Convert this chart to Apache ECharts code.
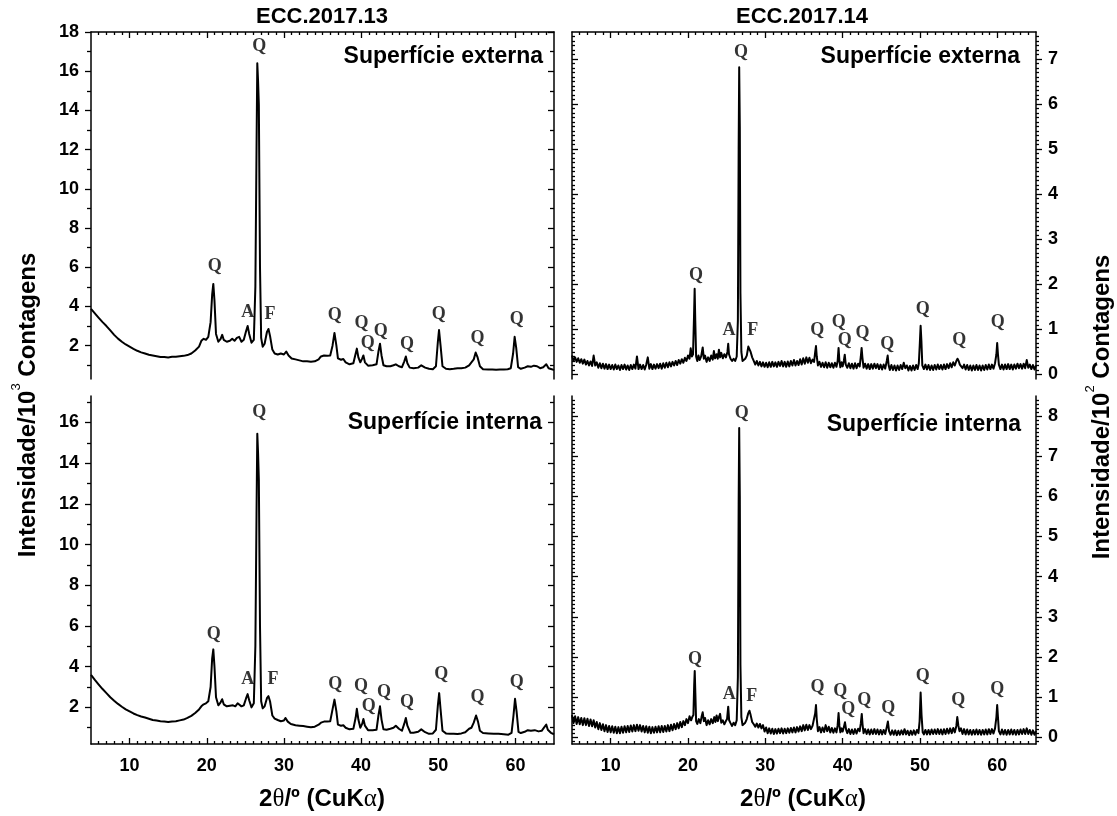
<!DOCTYPE html>
<html><head><meta charset="utf-8">
<script src="https://cdn.jsdelivr.net/npm/echarts@6/dist/echarts.min.js"></script>
<style>html,body{margin:0;padding:0;background:#fff}#c{width:1117px;height:816px}</style>
</head><body><div id="c"></div>
<script>
// ---- tick values ----
const xTickValues=[10,20,30,40,50,60];
const yTicksTL=[2,4,6,8,10,12,14,16,18];
const yTicksBL=[2,4,6,8,10,12,14,16];
const yTicksTR=[0,1,2,3,4,5,6,7];
const yTicksBR=[0,1,2,3,4,5,6,7,8];
const yMinorLeft=[1,3,5,7,9,11,13,15,17];

// ---- ECC.2017.13, Superfície externa (10^3 counts) ----
const ecc13ext=[[5,3.88],[5.5,3.65],[6,3.42],[6.5,3.2],[7,3.0],[7.5,2.78],[8,2.55],[8.5,2.36],[9,2.2],[9.5,2.06],[10,1.95],[10.5,1.84],[11,1.74],[11.5,1.66],[12,1.6],[12.5,1.54],[13,1.5],[13.5,1.46],[14,1.42],[14.5,1.42],[15,1.4],[15.5,1.43],[16,1.44],[16.5,1.46],[17,1.48],[17.5,1.52],[18,1.6],[18.5,1.75],[19,1.95],[19.3,2.25],[19.6,2.35],[19.9,2.3],[20.2,2.45],[20.5,3.2],[20.7,4.6],[20.85,5.15],[21.0,4.3],[21.2,2.6],[21.5,2.2],[21.8,2.35],[22.0,2.55],[22.2,2.3],[22.6,2.2],[23.0,2.25],[23.3,2.35],[23.6,2.25],[23.9,2.4],[24.2,2.45],[24.5,2.2],[24.8,2.3],[25.1,2.75],[25.3,3.0],[25.5,2.6],[25.8,2.15],[26.1,2.3],[26.3,5],[26.45,12],[26.55,16.4],[26.65,15.5],[26.75,14.3],[26.9,6],[27.05,2.4],[27.25,1.95],[27.5,2.1],[27.8,2.7],[28.0,2.85],[28.2,2.5],[28.5,1.8],[28.8,1.6],[29.2,1.55],[29.6,1.6],[30.0,1.55],[30.3,1.7],[30.6,1.5],[31.0,1.35],[31.5,1.3],[32.0,1.25],[32.5,1.2],[33.0,1.2],[33.5,1.18],[34.0,1.2],[34.5,1.3],[34.8,1.45],[35.2,1.5],[35.6,1.48],[36.0,1.5],[36.3,2.0],[36.55,2.65],[36.8,2.0],[37.0,1.35],[37.4,1.28],[37.7,1.32],[38.0,1.15],[38.5,1.05],[39.0,1.1],[39.3,1.6],[39.45,1.85],[39.65,1.4],[39.9,1.15],[40.15,1.35],[40.3,1.5],[40.5,1.15],[40.9,0.98],[41.5,1.0],[42.0,1.05],[42.25,1.7],[42.45,2.1],[42.65,1.5],[42.9,1.0],[43.3,0.95],[43.8,0.95],[44.2,1.0],[44.5,1.05],[44.9,0.95],[45.3,0.9],[45.6,1.2],[45.8,1.45],[46.0,1.1],[46.3,0.88],[46.8,0.85],[47.4,0.88],[47.8,1.0],[48.0,1.1],[48.3,0.88],[48.8,0.82],[49.3,0.8],[49.7,0.95],[49.95,2.2],[50.1,2.8],[50.3,2.0],[50.55,0.95],[51.0,0.82],[51.5,0.8],[52.0,0.82],[52.5,0.85],[53.0,0.85],[53.5,0.88],[54.0,1.0],[54.3,1.15],[54.6,1.3],[54.85,1.65],[55.1,1.4],[55.4,0.95],[55.8,0.8],[56.5,0.78],[57.0,0.78],[57.5,0.77],[58.0,0.78],[58.5,0.78],[59.0,0.8],[59.4,0.85],[59.7,1.6],[59.9,2.45],[60.1,1.9],[60.35,0.9],[60.7,0.82],[61.2,0.88],[61.6,0.95],[62.0,0.92],[62.4,0.98],[62.8,0.95],[63.2,0.85],[63.6,0.9],[64.0,1.05],[64.3,0.85],[64.7,0.8],[65,0.75]];

// ---- ECC.2017.13, Superfície interna (10^3 counts) ----
const ecc13int=[[5,3.6],[5.5,3.35],[6,3.12],[6.5,2.9],[7,2.7],[7.5,2.5],[8,2.33],[8.5,2.17],[9,2.03],[9.5,1.9],[10,1.8],[10.5,1.7],[11,1.62],[11.5,1.55],[12,1.5],[12.5,1.44],[13,1.38],[13.5,1.35],[14,1.32],[14.5,1.3],[15,1.28],[15.5,1.3],[16,1.32],[16.5,1.36],[17,1.4],[17.5,1.48],[18,1.58],[18.5,1.72],[19,1.9],[19.3,2.05],[19.6,2.15],[19.9,2.2],[20.2,2.3],[20.5,3.0],[20.7,4.4],[20.85,4.85],[21.0,4.0],[21.2,2.5],[21.5,2.1],[21.8,2.25],[22.0,2.4],[22.2,2.15],[22.6,2.05],[23.0,2.08],[23.4,2.1],[23.7,2.05],[24.0,2.2],[24.2,2.25],[24.5,2.05],[24.8,2.1],[25.1,2.45],[25.3,2.65],[25.5,2.35],[25.8,2.0],[26.1,2.2],[26.3,5],[26.45,11.5],[26.55,15.45],[26.65,14.5],[26.75,13.2],[26.9,6],[27.05,2.3],[27.25,1.95],[27.5,2.05],[27.8,2.45],[28.0,2.55],[28.2,2.3],[28.5,1.6],[28.8,1.45],[29.2,1.38],[29.6,1.32],[30.0,1.35],[30.2,1.48],[30.5,1.3],[30.9,1.18],[31.5,1.12],[32.0,1.1],[32.5,1.08],[33.0,1.05],[33.5,1.02],[34.0,1.05],[34.5,1.15],[34.8,1.25],[35.2,1.3],[35.6,1.3],[36.0,1.32],[36.3,1.9],[36.55,2.38],[36.8,1.8],[37.0,1.15],[37.4,1.1],[37.7,1.12],[38.0,1.0],[38.5,0.92],[39.0,0.95],[39.3,1.5],[39.45,1.93],[39.65,1.4],[39.9,1.0],[40.15,1.2],[40.3,1.43],[40.5,1.1],[40.9,0.88],[41.5,0.88],[42.0,0.9],[42.25,1.6],[42.45,2.05],[42.65,1.4],[42.9,0.92],[43.3,0.9],[43.8,0.95],[44.2,1.0],[44.5,1.1],[44.9,0.95],[45.3,0.85],[45.6,1.2],[45.8,1.48],[46.0,1.1],[46.4,0.75],[46.8,0.75],[47.4,0.8],[47.8,0.92],[48.0,0.95],[48.3,0.78],[48.8,0.7],[49.3,0.72],[49.7,0.9],[49.95,2.1],[50.12,2.7],[50.3,1.9],[50.55,0.85],[51.0,0.72],[51.5,0.7],[52.0,0.7],[52.5,0.69],[53.0,0.72],[53.5,0.78],[54.0,0.95],[54.3,1.0],[54.6,1.25],[54.9,1.6],[55.15,1.3],[55.4,0.85],[55.8,0.74],[56.5,0.72],[57.2,0.7],[57.8,0.7],[58.5,0.68],[59.1,0.66],[59.5,0.75],[59.75,1.6],[59.95,2.42],[60.15,1.8],[60.4,0.8],[60.7,0.74],[61.2,0.8],[61.6,0.88],[62.0,0.85],[62.5,0.88],[63.0,0.82],[63.4,0.85],[63.8,1.05],[64.0,1.15],[64.2,0.9],[64.6,0.75],[65,0.68]];

// ---- ECC.2017.14, Superfície externa (10^2 counts) ----
const ecc14ext=[[5,0.42],[5.2,0.3],[5.4,0.38],[5.6,0.28],[5.8,0.36],[6,0.26],[6.2,0.34],[6.4,0.24],[6.6,0.33],[6.8,0.22],[7,0.3],[7.2,0.2],[7.4,0.29],[7.6,0.19],[7.8,0.42],[8,0.2],[8.2,0.27],[8.4,0.15],[8.6,0.25],[8.8,0.14],[9,0.24],[9.2,0.13],[9.4,0.23],[9.6,0.12],[9.8,0.22],[10,0.12],[10.2,0.21],[10.4,0.11],[10.6,0.22],[10.8,0.12],[11,0.2],[11.2,0.1],[11.4,0.21],[11.6,0.12],[11.8,0.22],[12,0.11],[12.2,0.2],[12.4,0.1],[12.6,0.21],[12.8,0.12],[13,0.22],[13.2,0.13],[13.4,0.4],[13.6,0.12],[13.8,0.22],[14,0.12],[14.2,0.21],[14.4,0.11],[14.6,0.22],[14.8,0.38],[15,0.13],[15.2,0.23],[15.4,0.12],[15.6,0.22],[15.8,0.13],[16,0.23],[16.2,0.14],[16.4,0.24],[16.6,0.13],[16.8,0.25],[17,0.15],[17.2,0.26],[17.4,0.16],[17.6,0.27],[17.8,0.18],[18,0.28],[18.2,0.2],[18.4,0.3],[18.6,0.21],[18.8,0.32],[19,0.24],[19.2,0.34],[19.4,0.26],[19.6,0.37],[19.8,0.3],[20,0.42],[20.2,0.35],[20.35,0.58],[20.5,0.4],[20.65,0.45],[20.78,1.3],[20.86,1.9],[20.94,1.2],[21.05,0.4],[21.2,0.3],[21.35,0.42],[21.5,0.32],[21.7,0.4],[21.9,0.6],[22.05,0.35],[22.2,0.42],[22.4,0.28],[22.6,0.38],[22.8,0.3],[23.0,0.42],[23.2,0.33],[23.35,0.52],[23.5,0.36],[23.7,0.45],[23.85,0.35],[24.0,0.55],[24.15,0.38],[24.3,0.48],[24.5,0.36],[24.7,0.45],[24.9,0.38],[25.1,0.5],[25.2,0.68],[25.3,0.45],[25.5,0.35],[25.7,0.3],[25.9,0.35],[26.1,0.3],[26.3,0.4],[26.45,1.2],[26.55,5.0],[26.62,6.82],[26.7,5.5],[26.78,1.8],[26.9,0.5],[27.05,0.3],[27.2,0.26],[27.4,0.35],[27.6,0.42],[27.8,0.62],[27.95,0.66],[28.1,0.5],[28.3,0.38],[28.5,0.3],[28.7,0.22],[28.9,0.3],[29.1,0.2],[29.3,0.28],[29.5,0.18],[29.7,0.27],[29.9,0.17],[30.1,0.26],[30.3,0.16],[30.5,0.27],[30.7,0.17],[30.9,0.28],[31.1,0.18],[31.3,0.27],[31.5,0.17],[31.7,0.28],[31.9,0.19],[32.1,0.3],[32.3,0.18],[32.5,0.28],[32.7,0.17],[32.9,0.29],[33.1,0.18],[33.3,0.3],[33.5,0.2],[33.7,0.32],[33.9,0.2],[34.1,0.3],[34.3,0.21],[34.5,0.34],[34.7,0.22],[34.9,0.36],[35.1,0.24],[35.3,0.38],[35.5,0.26],[35.7,0.37],[35.9,0.25],[36.1,0.33],[36.3,0.28],[36.45,0.5],[36.55,0.63],[36.65,0.4],[36.8,0.2],[37.0,0.28],[37.2,0.17],[37.4,0.26],[37.6,0.16],[37.8,0.27],[38.0,0.15],[38.2,0.26],[38.4,0.16],[38.6,0.25],[38.8,0.15],[39.0,0.26],[39.2,0.17],[39.35,0.3],[39.47,0.59],[39.58,0.3],[39.7,0.16],[39.85,0.27],[40.0,0.18],[40.15,0.3],[40.27,0.44],[40.4,0.22],[40.6,0.15],[40.8,0.25],[41.0,0.14],[41.2,0.24],[41.4,0.13],[41.6,0.25],[41.8,0.14],[42.0,0.24],[42.2,0.18],[42.35,0.4],[42.45,0.59],[42.55,0.38],[42.7,0.15],[42.9,0.24],[43.1,0.13],[43.3,0.23],[43.5,0.12],[43.7,0.23],[43.9,0.13],[44.1,0.24],[44.3,0.14],[44.5,0.23],[44.7,0.12],[44.9,0.22],[45.1,0.11],[45.3,0.22],[45.5,0.13],[45.7,0.3],[45.82,0.42],[45.95,0.2],[46.1,0.1],[46.3,0.21],[46.5,0.1],[46.7,0.2],[46.9,0.09],[47.1,0.2],[47.3,0.1],[47.5,0.21],[47.7,0.12],[47.9,0.26],[48.1,0.14],[48.3,0.2],[48.5,0.09],[48.7,0.19],[48.9,0.09],[49.1,0.2],[49.3,0.1],[49.5,0.21],[49.7,0.12],[49.85,0.25],[49.98,0.7],[50.08,1.08],[50.18,0.75],[50.3,0.2],[50.5,0.12],[50.7,0.22],[50.9,0.11],[51.1,0.21],[51.3,0.1],[51.5,0.2],[51.7,0.1],[51.9,0.21],[52.1,0.11],[52.3,0.22],[52.5,0.12],[52.7,0.21],[52.9,0.11],[53.1,0.22],[53.3,0.12],[53.5,0.23],[53.7,0.14],[53.9,0.25],[54.1,0.16],[54.3,0.27],[54.5,0.2],[54.7,0.3],[54.85,0.35],[55.0,0.3],[55.15,0.22],[55.3,0.26],[55.5,0.14],[55.7,0.22],[55.9,0.11],[56.1,0.21],[56.3,0.1],[56.5,0.2],[56.7,0.09],[56.9,0.2],[57.1,0.1],[57.3,0.21],[57.5,0.1],[57.7,0.2],[57.9,0.09],[58.1,0.2],[58.3,0.1],[58.5,0.21],[58.7,0.11],[58.9,0.22],[59.1,0.12],[59.3,0.22],[59.5,0.13],[59.7,0.25],[59.88,0.45],[59.98,0.7],[60.08,0.45],[60.2,0.22],[60.4,0.12],[60.6,0.22],[60.8,0.11],[61.0,0.22],[61.2,0.12],[61.4,0.23],[61.6,0.12],[61.8,0.22],[62.0,0.11],[62.2,0.22],[62.4,0.13],[62.6,0.24],[62.8,0.14],[63.0,0.23],[63.2,0.13],[63.4,0.24],[63.6,0.14],[63.8,0.32],[64.0,0.15],[64.2,0.22],[64.4,0.12],[64.6,0.21],[64.8,0.11],[65,0.2]];

// ---- ECC.2017.14, Superfície interna (10^2 counts) ----
const ecc14int=[[5,0.55],[5.2,0.35],[5.4,0.52],[5.6,0.33],[5.8,0.5],[6,0.32],[6.2,0.48],[6.4,0.3],[6.6,0.47],[6.8,0.3],[7,0.46],[7.2,0.28],[7.4,0.44],[7.6,0.27],[7.8,0.42],[8,0.24],[8.2,0.38],[8.4,0.2],[8.6,0.35],[8.8,0.18],[9,0.32],[9.2,0.15],[9.4,0.3],[9.6,0.13],[9.8,0.28],[10,0.12],[10.2,0.27],[10.4,0.11],[10.6,0.26],[10.8,0.1],[11,0.25],[11.2,0.1],[11.4,0.26],[11.6,0.11],[11.8,0.27],[12,0.12],[12.2,0.28],[12.4,0.13],[12.6,0.29],[12.8,0.14],[13,0.3],[13.2,0.15],[13.4,0.31],[13.6,0.16],[13.8,0.3],[14,0.14],[14.2,0.28],[14.4,0.12],[14.6,0.27],[14.8,0.11],[15,0.26],[15.2,0.1],[15.4,0.25],[15.6,0.11],[15.8,0.26],[16,0.12],[16.2,0.27],[16.4,0.12],[16.6,0.28],[16.8,0.13],[17,0.28],[17.2,0.14],[17.4,0.3],[17.6,0.15],[17.8,0.31],[18,0.17],[18.2,0.33],[18.4,0.2],[18.6,0.35],[18.8,0.22],[19,0.38],[19.2,0.25],[19.4,0.4],[19.6,0.3],[19.8,0.45],[20,0.35],[20.2,0.52],[20.4,0.42],[20.55,0.5],[20.7,0.55],[20.8,1.3],[20.87,1.65],[20.95,1.1],[21.05,0.4],[21.2,0.33],[21.4,0.45],[21.6,0.35],[21.75,0.5],[21.9,0.62],[22.05,0.4],[22.2,0.48],[22.4,0.3],[22.6,0.42],[22.8,0.32],[23.0,0.45],[23.2,0.35],[23.4,0.5],[23.55,0.38],[23.7,0.54],[23.85,0.4],[24.0,0.5],[24.15,0.58],[24.3,0.36],[24.5,0.42],[24.7,0.32],[24.9,0.4],[25.05,0.45],[25.2,0.76],[25.32,0.42],[25.5,0.35],[25.7,0.28],[25.9,0.36],[26.1,0.3],[26.3,0.42],[26.45,1.5],[26.55,5.8],[26.62,7.7],[26.7,6.0],[26.78,1.8],[26.9,0.5],[27.05,0.3],[27.2,0.28],[27.4,0.36],[27.6,0.45],[27.8,0.6],[27.95,0.66],[28.1,0.55],[28.3,0.38],[28.5,0.32],[28.7,0.26],[28.9,0.34],[29.1,0.24],[29.3,0.33],[29.5,0.22],[29.7,0.3],[29.9,0.14],[30.1,0.24],[30.3,0.1],[30.5,0.22],[30.7,0.09],[30.9,0.21],[31.1,0.08],[31.3,0.2],[31.5,0.09],[31.7,0.21],[31.9,0.1],[32.1,0.22],[32.3,0.09],[32.5,0.21],[32.7,0.1],[32.9,0.22],[33.1,0.11],[33.3,0.23],[33.5,0.12],[33.7,0.24],[33.9,0.12],[34.1,0.25],[34.3,0.14],[34.5,0.27],[34.7,0.15],[34.9,0.3],[35.1,0.17],[35.3,0.31],[35.5,0.18],[35.7,0.3],[35.9,0.2],[36.1,0.28],[36.3,0.3],[36.45,0.6],[36.55,0.8],[36.65,0.45],[36.8,0.15],[37.0,0.25],[37.2,0.12],[37.4,0.24],[37.6,0.13],[37.8,0.3],[38.0,0.15],[38.2,0.26],[38.4,0.12],[38.6,0.23],[38.8,0.11],[39.0,0.22],[39.2,0.12],[39.35,0.3],[39.47,0.6],[39.58,0.28],[39.7,0.12],[39.85,0.22],[40.0,0.14],[40.15,0.25],[40.3,0.37],[40.45,0.18],[40.6,0.1],[40.8,0.2],[41.0,0.08],[41.2,0.19],[41.4,0.08],[41.6,0.2],[41.8,0.09],[42.0,0.21],[42.2,0.15],[42.35,0.35],[42.47,0.58],[42.57,0.32],[42.7,0.1],[42.9,0.2],[43.1,0.08],[43.3,0.19],[43.5,0.07],[43.7,0.19],[43.9,0.08],[44.1,0.2],[44.3,0.08],[44.5,0.19],[44.7,0.07],[44.9,0.18],[45.1,0.07],[45.3,0.18],[45.5,0.08],[45.7,0.25],[45.85,0.39],[46.0,0.15],[46.2,0.06],[46.4,0.17],[46.6,0.06],[46.8,0.17],[47.0,0.05],[47.2,0.16],[47.4,0.06],[47.6,0.17],[47.8,0.07],[48.0,0.2],[48.2,0.07],[48.4,0.16],[48.6,0.05],[48.8,0.16],[49.0,0.06],[49.2,0.17],[49.4,0.06],[49.6,0.18],[49.8,0.1],[49.95,0.4],[50.08,1.11],[50.2,0.55],[50.35,0.12],[50.5,0.07],[50.7,0.18],[50.9,0.07],[51.1,0.18],[51.3,0.07],[51.5,0.19],[51.7,0.08],[51.9,0.19],[52.1,0.08],[52.3,0.2],[52.5,0.08],[52.7,0.19],[52.9,0.07],[53.1,0.2],[53.3,0.08],[53.5,0.21],[53.7,0.09],[53.9,0.22],[54.1,0.1],[54.3,0.23],[54.5,0.12],[54.7,0.28],[54.82,0.5],[54.95,0.3],[55.1,0.15],[55.3,0.22],[55.5,0.08],[55.7,0.2],[55.9,0.07],[56.1,0.19],[56.3,0.07],[56.5,0.18],[56.7,0.06],[56.9,0.18],[57.1,0.07],[57.3,0.19],[57.5,0.07],[57.7,0.18],[57.9,0.06],[58.1,0.18],[58.3,0.07],[58.5,0.19],[58.7,0.07],[58.9,0.2],[59.1,0.08],[59.3,0.2],[59.5,0.09],[59.7,0.22],[59.88,0.5],[59.98,0.8],[60.08,0.5],[60.2,0.15],[60.4,0.07],[60.6,0.19],[60.8,0.07],[61.0,0.18],[61.2,0.06],[61.4,0.18],[61.6,0.07],[61.8,0.19],[62.0,0.07],[62.2,0.18],[62.4,0.06],[62.6,0.18],[62.8,0.07],[63.0,0.19],[63.2,0.08],[63.4,0.2],[63.6,0.08],[63.8,0.22],[64.0,0.08],[64.2,0.18],[64.4,0.06],[64.6,0.17],[64.8,0.06],[65,0.16]];

// ---- phase annotations [2θ, intensity, label] ----
const ecc13extPeaks=[[26.8,17.27,'Q'],[21.05,6.07,'Q'],[25.3,3.69,'A'],[28.2,3.6,'F'],[36.6,3.57,'Q'],[40.07,3.14,'Q'],[40.87,2.12,'Q'],[42.56,2.71,'Q'],[45.94,2.07,'Q'],[50.07,3.6,'Q'],[55.1,2.37,'Q'],[60.16,3.34,'Q']];
const ecc13intPeaks=[[26.8,16.5,'Q'],[20.9,5.6,'Q'],[25.3,3.39,'A'],[28.57,3.36,'F'],[36.64,3.11,'Q'],[39.98,3.03,'Q'],[41.0,2.05,'Q'],[42.98,2.74,'Q'],[45.94,2.25,'Q'],[50.4,3.6,'Q'],[55.1,2.49,'Q'],[60.16,3.23,'Q']];
const ecc14extPeaks=[[26.85,7.15,'Q'],[21.03,2.21,'Q'],[25.3,0.97,'A'],[28.36,0.97,'F'],[36.7,0.99,'Q'],[39.5,1.16,'Q'],[40.27,0.75,'Q'],[42.56,0.92,'Q'],[45.77,0.68,'Q'],[50.35,1.45,'Q'],[55.07,0.75,'Q'],[60.06,1.16,'Q']];
const ecc14intPeaks=[[26.95,8.08,'Q'],[20.9,1.95,'Q'],[25.34,1.07,'A'],[28.23,1.01,'F'],[36.73,1.24,'Q'],[39.7,1.13,'Q'],[40.72,0.7,'Q'],[42.79,0.93,'Q'],[45.9,0.72,'Q'],[50.36,1.51,'Q'],[54.95,0.91,'Q'],[60.0,1.2,'Q']];

const panelTitles=['ECC.2017.13','ECC.2017.14'];
const surfaceLabels=['Superfície externa','Superfície interna'];

// ---- layout ----
const SANS='"Liberation Sans", Arial, sans-serif';
const SERIF='"Liberation Serif", "Times New Roman", serif';
const BLK='#000';
function range(a,b,s,skip){const r=[];for(let i=0;;i++){const v=Math.round((a+i*s)*1000)/1000;if(v>b+1e-9)break;if(!skip||!skip(v))r.push(v);}return r;}
const isInt=v=>Math.abs(v-Math.round(v))<1e-6;
const xMinor=range(6,64,1,v=>v%10===0);
const yMinorRightTop=range(0.1,7.5,0.1,isInt);
const yMinorRightBot=range(-0.1,8.4,0.1,isInt);

const panels=[
 {grid:{left:91,top:32,width:463,height:347},ymin:0.3,ymax:18,right:false,bottom:false,yMajor:yTicksTL,yMinor:yMinorLeft,data:ecc13ext,peaks:ecc13extPeaks,lw:2},
 {grid:{left:572,top:32,width:464,height:347},ymin:-0.1,ymax:7.6,right:true,bottom:false,yMajor:yTicksTR,yMinor:yMinorRightTop,data:ecc14ext,peaks:ecc14extPeaks,lw:2},
 {grid:{left:91,top:396,width:463,height:348},ymin:0.2,ymax:17.3,right:false,bottom:true,yMajor:yTicksBL,yMinor:yMinorLeft,data:ecc13int,peaks:ecc13intPeaks,lw:2},
 {grid:{left:572,top:396,width:464,height:348},ymin:-0.17,ymax:8.5,right:true,bottom:true,yMajor:yTicksBR,yMinor:yMinorRightBot,data:ecc14int,peaks:ecc14intPeaks,lw:2}
];

const lineSt={color:BLK,width:1.5};
const tickSt={color:BLK,width:1.3};
const labelFont={color:BLK,fontFamily:SANS,fontWeight:'bold',fontSize:18};
const hiddenLine={show:false,onZero:false};
const xAxes=[],yAxes=[],series=[],grids=[];
panels.forEach((p,g)=>{
  grids.push(Object.assign({containLabel:false},p.grid));
  const pos=p.bottom?'bottom':'top';
  const xi=xAxes.length;
  xAxes.push({gridIndex:g,type:'value',min:5,max:65,position:pos,
    axisLine:{show:true,onZero:false,lineStyle:lineSt},
    axisTick:{show:true,inside:true,length:6,customValues:xTickValues,lineStyle:tickSt},
    axisLabel:Object.assign({show:p.bottom,customValues:xTickValues,margin:13},labelFont),
    splitLine:{show:false}});
  xAxes.push({gridIndex:g,type:'value',min:5,max:65,position:pos,
    axisLine:hiddenLine,
    axisTick:{show:true,inside:true,length:3,customValues:xMinor,lineStyle:tickSt},
    axisLabel:{show:false},splitLine:{show:false}});
  const side=p.right?'right':'left', mirror=p.right?'left':'right';
  const yi=yAxes.length;
  const ybase={gridIndex:g,type:'value',min:p.ymin,max:p.ymax,splitLine:{show:false}};
  yAxes.push(Object.assign({},ybase,{position:side,
    axisLine:{show:true,onZero:false,lineStyle:lineSt},
    axisTick:{show:true,inside:false,length:6,customValues:p.yMajor,lineStyle:tickSt},
    axisLabel:Object.assign({show:true,customValues:p.yMajor,margin:12},labelFont)}));
  yAxes.push(Object.assign({},ybase,{position:side,
    axisLine:hiddenLine,
    axisTick:{show:true,inside:false,length:p.right?3:4,customValues:p.yMinor,lineStyle:tickSt},
    axisLabel:{show:false}}));
  yAxes.push(Object.assign({},ybase,{position:mirror,
    axisLine:{show:true,onZero:false,lineStyle:lineSt},
    axisTick:{show:true,inside:true,length:6,customValues:p.yMajor,lineStyle:tickSt},
    axisLabel:{show:false}}));
  yAxes.push(Object.assign({},ybase,{position:mirror,
    axisLine:hiddenLine,
    axisTick:{show:true,inside:true,length:p.right?3:4,customValues:p.yMinor,lineStyle:tickSt},
    axisLabel:{show:false}}));
  series.push({type:'line',xAxisIndex:xi,yAxisIndex:yi,data:p.data,symbol:'none',showSymbol:false,
    lineStyle:{color:BLK,width:p.lw,join:'round'},animation:false,silent:true,clip:true});
  series.push({type:'scatter',xAxisIndex:xi,yAxisIndex:yi,symbolSize:0,animation:false,silent:true,
    data:p.peaks.map(d=>({value:[d[0],d[1]],name:d[2]})),
    label:{show:true,position:'inside',formatter:'{b}',color:BLK,fontFamily:SERIF,fontWeight:'bold',fontSize:18}});
});

const gtext=(x,y,text,size,align)=>({type:'text',x:x,y:y,silent:true,
  style:{text:text,fill:BLK,fontFamily:SANS,fontWeight:'bold',fontSize:size,align:align||'center',verticalAlign:'middle'}});
const xTitleRich={b:{fontFamily:SANS,fontWeight:'bold',fontSize:24,fill:BLK},s:{fontFamily:SERIF,fontSize:25,fill:BLK}};
const yTitleRich={b:{fontFamily:SANS,fontWeight:'bold',fontSize:24,fill:BLK,lineHeight:30,verticalAlign:'bottom'},sup:{fontFamily:SANS,fontSize:13,fill:BLK,lineHeight:30,verticalAlign:'top'}};

const graphic=[
  gtext(322,17,panelTitles[0],22),
  gtext(802,17,panelTitles[1],22),
  gtext(543,57,surfaceLabels[0],23,'right'),
  gtext(1020,57,surfaceLabels[0],23,'right'),
  gtext(542,423,surfaceLabels[1],23,'right'),
  gtext(1021,425,surfaceLabels[1],23,'right'),
  {type:'text',x:322,y:799,silent:true,style:{text:'{b|2}{s|θ}{b|/º (CuK}{s|α}{b|)}',rich:xTitleRich,align:'center',verticalAlign:'middle'}},
  {type:'text',x:803,y:799,silent:true,style:{text:'{b|2}{s|θ}{b|/º (CuK}{s|α}{b|)}',rich:xTitleRich,align:'center',verticalAlign:'middle'}},
  {type:'text',x:25,y:405,rotation:Math.PI/2,silent:true,style:{text:'{b|Intensidade/10}{sup|3}{b| Contagens}',rich:yTitleRich,align:'center',verticalAlign:'middle'}},
  {type:'text',x:1099,y:407,rotation:Math.PI/2,silent:true,style:{text:'{b|Intensidade/10}{sup|2}{b| Contagens}',rich:yTitleRich,align:'center',verticalAlign:'middle'}}
];

const chart=echarts.init(document.getElementById('c'),null,{renderer:'canvas'});
chart.setOption({backgroundColor:'#fff',animation:false,grid:grids,xAxis:xAxes,yAxis:yAxes,series:series,graphic:graphic});
</script></body></html>
